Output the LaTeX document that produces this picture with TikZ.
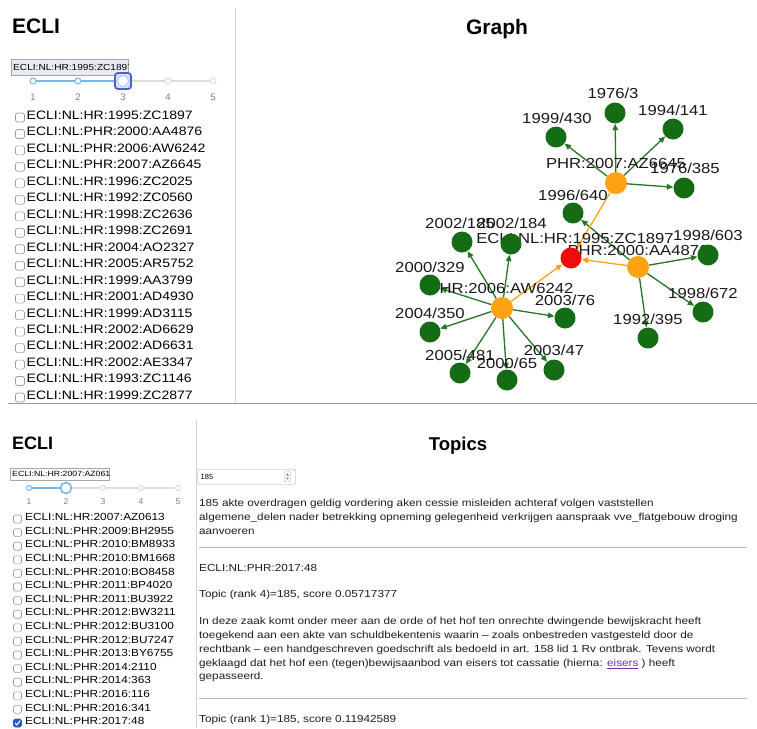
\documentclass[tikz,border=0pt]{standalone}
\usepackage{fontspec}
\setmainfont{Liberation Sans}
\newfontfamily\uifont[FakeStretch=1.15]{Liberation Sans}
\usetikzlibrary{arrows.meta}
\pgfdeclarelayer{bglayer}
\pgfdeclarelayer{edgelayer}
\pgfdeclarelayer{labellayer}
\pgfsetlayers{bglayer,edgelayer,labellayer,main}

\definecolor{nodegreen}{RGB}{20,108,20}
\definecolor{edgegreen}{RGB}{38,118,38}
\definecolor{nodeorange}{RGB}{255,163,20}
\definecolor{nodered}{RGB}{238,12,12}
\definecolor{rulegray}{RGB}{150,150,150}
\definecolor{panelgray}{RGB}{212,212,212}
\definecolor{trackblue}{RGB}{115,185,230}
\definecolor{trackgray}{RGB}{222,222,222}
\definecolor{handleblue}{RGB}{75,95,210}
\definecolor{linkpurple}{RGB}{115,45,175}
\definecolor{checkblue}{RGB}{40,90,200}
\definecolor{inputfill}{RGB}{232,235,242}
\definecolor{textdark}{RGB}{30,30,30}

\newcommand\setfs[1]{\fontsize{#1}{#1}\selectfont}

\begin{document}
\begin{tikzpicture}[x=1pt,y=-1pt,
  heading/.style={font=\bfseries\setfs{21}, inner sep=0pt, text height=15pt, text depth=0pt},
  listtop/.style={font=\uifont\setfs{12.2}, inner sep=0pt, text height=8.8pt, text depth=0pt, anchor=west},
  listbot/.style={font=\uifont\setfs{10.3}, inner sep=0pt, text height=7.4pt, text depth=0pt, anchor=west},
  para/.style={font=\uifont\setfs{10.2}, text=textdark, inner sep=0pt, text height=7.3pt, text depth=0pt, anchor=west},
  tick/.style={font=\setfs{9.5}, text=gray, inner sep=0pt, text height=6.8pt, text depth=0pt},
  glabel/.style={font=\uifont\setfs{14.5}, text=black!90, inner sep=0pt, text height=10.4pt, text depth=0pt},
  cbox/.style={draw=gray!75, fill=white, rounded corners=1.6pt, minimum size=9pt, inner sep=0pt, line width=0.6pt},
  cboxsmall/.style={cbox, minimum size=8pt},
  dotblue/.style={circle, draw=trackblue, fill=white, line width=1pt, minimum size=6pt, inner sep=0pt},
  dotgray/.style={circle, draw=trackgray, fill=white, line width=1pt, minimum size=6pt, inner sep=0pt},
  gnode/.style={circle, fill=nodegreen, minimum size=21pt, inner sep=0pt},
  onode/.style={circle, fill=nodeorange, minimum size=22pt, inner sep=0pt},
  rnode/.style={circle, fill=nodered, minimum size=21pt, inner sep=0pt},
  gedge/.style={draw=edgegreen, line width=1.3pt, -{Triangle[length=6.5pt,width=5.5pt]}},
  oedge/.style={draw=nodeorange, line width=1.3pt, -{Triangle[length=6.5pt,width=5.5pt]}},
  hrule/.style={draw=gray!55, line width=1pt}
]
\useasboundingbox (0,0) rectangle (757,728);
\begin{pgfonlayer}{bglayer}
  \fill[white] (0,0) rectangle (757,728);
\end{pgfonlayer}

% ---------- panel borders ----------
\draw[panelgray, line width=0.8pt] (235,8) -- (235,403);
\draw[rulegray, line width=0.9pt] (8,403) -- (757,403);
\draw[panelgray, line width=0.8pt] (196.5,420) -- (196.5,728);

% ---------- upper selector panel ----------
\node[heading, anchor=west] (eclitop) at (12,25.5) {ECLI};

\node[draw=gray!70, fill=inputfill, minimum width=117pt, minimum height=16pt, anchor=north west, inner sep=0pt] (intop) at (11,59) {};
\begin{scope}
  \clip (intop.north west) rectangle (intop.south east);
  \node[font=\uifont\setfs{8.8}, anchor=west, inner sep=0pt, text height=6.3pt, text depth=0pt] (intoptext) at (13,67) {ECLI:NL:HR:1995:ZC1897};
\end{scope}

\draw[trackgray, line width=2.5pt, line cap=round] (33,81) -- (213,81);
\draw[trackblue, line width=2.5pt] (33,81) -- (123,81);
\node[dotblue] (td1) at (33,81) {};
\node[dotblue] (td2) at (78,81) {};
\node[dotgray] (td4) at (168,81) {};
\node[dotgray] (td5) at (213,81) {};
\node[draw=handleblue, line width=1.8pt, rounded corners=3pt, minimum size=16pt, fill=handleblue!18, inner sep=0pt] (thandle) at (123,81) {};
\node[circle, fill=white, draw=trackblue!70, line width=0.8pt, minimum size=11pt, inner sep=0pt] (thandlein) at (123,81) {};
\foreach \x [count=\k] in {33,78,123,168,213}
  \node[tick] (tt\k) at (\x,97) {\k};

\foreach \t [count=\i from 0] in {HR:1995:ZC1897,PHR:2000:AA4876,PHR:2006:AW6242,PHR:2007:AZ6645,HR:1996:ZC2025,HR:1992:ZC0560,HR:1998:ZC2636,HR:1998:ZC2691,HR:2004:AO2327,HR:2005:AR5752,HR:1999:AA3799,HR:2001:AD4930,HR:1999:AD3115,HR:2002:AD6629,HR:2002:AD6631,HR:2002:AE3347,HR:1993:ZC1146,HR:1999:ZC2877}{
  \node[cbox] (tb\i) at (20,{117.5+16.47*\i}) {};
  \node[listtop] (tl\i) at (26.5,{115+16.47*\i}) {ECLI:NL:\t};
}

% ---------- citation graph ----------
\node[heading, anchor=center] (graphtitle) at (497,27) {Graph};

\node[onode] (az) at (616,183) {};
\node[onode] (aa) at (638,267) {};
\node[onode] (aw) at (502,308) {};
\node[rnode] (red) at (571,258) {};

\node[gnode] (a1976) at (615,113) {};
\node[gnode] (a1994) at (673,129) {};
\node[gnode] (a1999) at (556,137) {};
\node[gnode] (a1976b) at (684,188) {};

\node[gnode] (b1996) at (573,213) {};
\node[gnode] (b1998a) at (708,255) {};
\node[gnode] (b1998b) at (703,312) {};
\node[gnode] (b1992) at (648,338) {};

\node[gnode] (c2002a) at (462,242) {};
\node[gnode] (c2002b) at (511,244) {};
\node[gnode] (c2000a) at (430,285) {};
\node[gnode] (c2004) at (430,332) {};
\node[gnode] (c2003a) at (565,318) {};
\node[gnode] (c2005) at (460,373) {};
\node[gnode] (c2000b) at (507,380) {};
\node[gnode] (c2003b) at (554,370) {};

\begin{pgfonlayer}{edgelayer}
  \foreach \s/\t in {az/a1976,az/a1994,az/a1999,az/a1976b,aa/b1996,aa/b1998a,aa/b1998b,aa/b1992,aw/c2002a,aw/c2002b,aw/c2000a,aw/c2004,aw/c2003a,aw/c2005,aw/c2000b,aw/c2003b}
    \draw[gedge] (\s) -- (\t);
  \foreach \s in {az,aa,aw}
    \draw[oedge] (\s) -- (red);
\end{pgfonlayer}

\begin{pgfonlayer}{labellayer}
  \node[glabel] (la1976) at (613,93) {1976/3};
  \node[glabel] (la1994) at (673,110) {1994/141};
  \node[glabel] (la1999) at (557,118) {1999/430};
  \node[glabel] (laz) at (616,163) {PHR:2007:AZ6645};
  \node[glabel] (la1976b) at (685,168) {1976/385};
  \node[glabel] (lb1996) at (573,195) {1996/640};
  \node[glabel] (lc2002a) at (460,223) {2002/185};
  \node[glabel] (lc2002b) at (512,223) {2002/184};
  \node[glabel] (lred) at (575,238) {ECLI:NL:HR:1995:ZC1897};
  \node[glabel] (laa) at (638,250) {PHR:2000:AA4876};
  \node[glabel] (lb1998a) at (708,235) {1998/603};
  \node[glabel] (lc2000a) at (430,267) {2000/329};
  \node[glabel] (law) at (501,288) {PHR:2006:AW6242};
  \node[glabel] (lc2003a) at (565,300) {2003/76};
  \node[glabel] (lc2004) at (430,313) {2004/350};
  \node[glabel] (lb1998b) at (703,293) {1998/672};
  \node[glabel] (lb1992) at (648,319) {1992/395};
  \node[glabel] (lc2005) at (460,355) {2005/481};
  \node[glabel] (lc2000b) at (507,363) {2000/65};
  \node[glabel] (lc2003b) at (554,350) {2003/47};
\end{pgfonlayer}

% ---------- lower selector panel ----------
\node[heading, font=\bfseries\setfs{18}, text height=13pt, anchor=west] (eclibot) at (12,442.5) {ECLI};

\node[draw=gray!70, fill=white, minimum width=99pt, minimum height=12pt, anchor=north west, inner sep=0pt] (inbot) at (10,468) {};
\begin{scope}
  \clip (inbot.north west) rectangle (inbot.south east);
  \node[font=\uifont\setfs{7.6}, anchor=west, inner sep=0pt, text height=5.4pt, text depth=0pt] (inbottext) at (12,474) {ECLI:NL:HR:2007:AZ0613};
\end{scope}

\draw[trackgray, line width=2.2pt, line cap=round] (29,488) -- (178,488);
\draw[trackblue, line width=2.2pt] (29,488) -- (66,488);
\node[dotblue, minimum size=5pt] (bd1) at (29,488) {};
\node[dotgray, minimum size=5pt] (bd3) at (103,488) {};
\node[dotgray, minimum size=5pt] (bd4) at (141,488) {};
\node[dotgray, minimum size=5pt] (bd5) at (178,488) {};
\node[circle, fill=white, draw=trackblue, line width=1.6pt, minimum size=11pt, inner sep=0pt] (bhandle) at (66,488) {};
\foreach \x [count=\k] in {29,66,103,141,178}
  \node[tick, font=\setfs{8.5}, text height=6pt] (bt\k) at (\x,501) {\k};

\foreach \t [count=\i from 0] in {HR:2007:AZ0613,PHR:2009:BH2955,PHR:2010:BM8933,PHR:2010:BM1668,PHR:2010:BO8458,PHR:2011:BP4020,PHR:2011:BU3922,PHR:2012:BW3211,PHR:2012:BU3100,PHR:2012:BU7247,PHR:2013:BY6755,PHR:2014:2110,PHR:2014:363,PHR:2016:116,PHR:2016:341}{
  \node[cboxsmall] (bb\i) at (17.5,{519+13.6*\i}) {};
  \node[listbot] (bl\i) at (25,{517+13.6*\i}) {ECLI:NL:\t};
}
\node[cboxsmall, fill=checkblue, draw=checkblue] (bbchk) at (17.5,723) {};
\draw[white, line width=1.1pt, line cap=round, line join=round] ([shift={(-2.3,0)}]bbchk.center) -- ++(1.6,2) -- ++(3.2,-4.2);
\node[listbot] (blchk) at (25,721) {ECLI:NL:PHR:2017:48};

% ---------- topics panel ----------
\node[heading, font=\bfseries\setfs{18.5}, text height=13.3pt, anchor=center] (topicstitle) at (458,444) {Topics};

\node[draw=gray!70, rounded corners=1.5pt, minimum width=98pt, minimum height=15pt, anchor=north west, inner sep=0pt] (numbox) at (197.5,469) {};
\node[font=\setfs{7.5}, anchor=west, inner sep=0pt, text height=5.4pt, text depth=0pt] (numtext) at (200.5,476.5) {185};
\node[draw=gray!60, rounded corners=2pt, minimum width=6pt, minimum height=11pt, inner sep=0pt] (spin) at (287.5,476.5) {};
\fill[gray] ([shift={(-1.6,-1)}]spin.center) -- ([shift={(1.6,-1)}]spin.center) -- ([shift={(0,-3.2)}]spin.center) -- cycle;
\fill[gray] ([shift={(-1.6,1)}]spin.center) -- ([shift={(1.6,1)}]spin.center) -- ([shift={(0,3.2)}]spin.center) -- cycle;

\node[para] (w1) at (199,503) {185 akte overdragen geldig vordering aken cessie misleiden achteraf volgen vaststellen};
\node[para] (w2) at (199,517) {algemene\_delen nader betrekking opneming gelegenheid verkrijgen aanspraak vve\_flatgebouw droging};
\node[para] (w3) at (199,531) {aanvoeren};

\coordinate (r1a) at (199,547);
\coordinate (r1b) at (747,547);
\draw[hrule] (r1a) -- (r1b);

\node[para] (doc) at (199,568) {ECLI:NL:PHR:2017:48};
\node[para] (rank4) at (199,594) {Topic (rank 4)=185, score 0.05717377};

\node[para] (p1) at (199,621) {In deze zaak komt onder meer aan de orde of het hof ten onrechte dwingende bewijskracht heeft};
\node[para] (p2) at (199,635) {toegekend aan een akte van schuldbekentenis waarin – zoals onbestreden vastgesteld door de};
\node[para] (p3) at (199,649) {rechtbank – een handgeschreven goedschrift als bedoeld in art. 158 lid 1 Rv ontbrak. Tevens wordt};
\node[para] (p4) at (199,663) {geklaagd dat het hof een (tegen)bewijsaanbod van eisers tot cassatie (hierna: \textcolor{linkpurple}{\underline{eisers}} ) heeft};
\node[para] (p5) at (199,676) {gepasseerd.};

\coordinate (r2a) at (199,698);
\coordinate (r2b) at (747,698);
\draw[hrule] (r2a) -- (r2b);

\node[para] (rank1) at (199,719) {Topic (rank 1)=185, score 0.11942589};
\end{tikzpicture}
\end{document}
